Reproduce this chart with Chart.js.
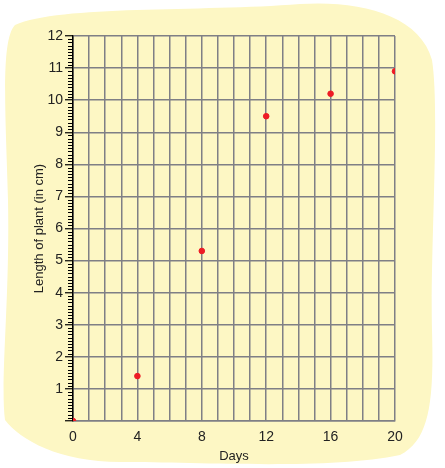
<!DOCTYPE html>
<html><head><meta charset="utf-8">
<script src="https://cdn.jsdelivr.net/npm/chart.js@4"></script>
<style>html,body{margin:0;padding:0;background:#fff}#w{width:445px;height:468px}</style>
</head><body><div id="w"><canvas id="c"></canvas></div>
<script>
const days = [0, 4, 8, 12, 16, 20];
const lengths = [0, 1.4, 5.3, 9.5, 10.2, 10.9];
const xLabelDays = [0, 4, 8, 12, 16, 20];

const blob = {
  id: 'blob',
  beforeDraw(ch) {
    const c = ch.ctx; c.save();
    c.fillStyle = '#fdf7c4';
    c.beginPath();
    c.moveTo(15, 25);
    c.bezierCurveTo(60, 5, 200, 12, 300, 4);
    c.bezierCurveTo(360, 0, 420, 15, 432, 60);
    c.bezierCurveTo(440, 110, 430, 250, 432, 330);
    c.bezierCurveTo(434, 400, 430, 440, 400, 455);
    c.bezierCurveTo(330, 470, 200, 462, 120, 462);
    c.bezierCurveTo(60, 462, 20, 440, 5, 420);
    c.bezierCurveTo(0, 380, 10, 300, 8, 200);
    c.bezierCurveTo(6, 120, 0, 40, 15, 25);
    c.closePath(); c.fill();
    c.restore();
  },
  afterDraw(ch) {
    const c = ch.ctx, y = ch.scales.y, x = ch.scales.x;
    c.save(); c.strokeStyle = '#000'; c.lineWidth = 1;
    for (let i = 0; i <= 120; i++) {
      if (i % 10 === 0) continue;
      const py = Math.round(y.getPixelForValue(i / 10)) + 0.5;
      c.beginPath(); c.moveTo(x.left - 5, py); c.lineTo(x.left, py); c.stroke();
    }
    c.restore();
  }
};

new Chart(document.getElementById('c'), {
  type: 'scatter',
  data: { datasets: [{ data: days.map((d, i) => ({ x: d, y: lengths[i] })),
    backgroundColor: '#ee1c25', borderColor: '#ee1c25', pointRadius: 2.8 }] },
  options: {
    responsive: true, maintainAspectRatio: false, animation: false,
    layout: { padding: { top: 36, right: 50, bottom: 0, left: 28 } },
    plugins: { legend: { display: false }, tooltip: { enabled: false } },
    scales: {
      x: { min: 0, max: 20,
        grid: { color: '#7f7f85', lineWidth: 1.5, drawTicks: false },
        border: { color: '#7f7f85', width: 1.5 },
        ticks: { stepSize: 1, autoSkip: false, maxRotation: 0, padding: 8, color: '#222',
          font: { family: 'Liberation Sans', size: 14 },
          callback: v => xLabelDays.includes(v) ? String(v) : '' },
        title: { display: true, text: 'Days', color: '#222', font: { family: 'Liberation Sans', size: 13 }, padding: { top: 6 } },
        afterFit(s) { s.height = 47; }
      },
      y: { min: 0, max: 12,
        grid: { color: '#7f7f85', lineWidth: 1.5, tickColor: '#000', tickLength: 8, tickWidth: 1.2 },
        border: { color: '#000', width: 1.5 },
        ticks: { stepSize: 1, padding: 2, color: '#222', font: { family: 'Liberation Sans', size: 14 },
          callback: v => v === 0 ? '' : String(v) },
        title: { display: true, text: 'Length of plant (in cm)', color: '#222', font: { family: 'Liberation Sans', size: 13 }, padding: { bottom: 4 } },
        afterFit(s) { s.width = 45; }
      }
    }
  },
  plugins: [blob]
});
</script></body></html>
